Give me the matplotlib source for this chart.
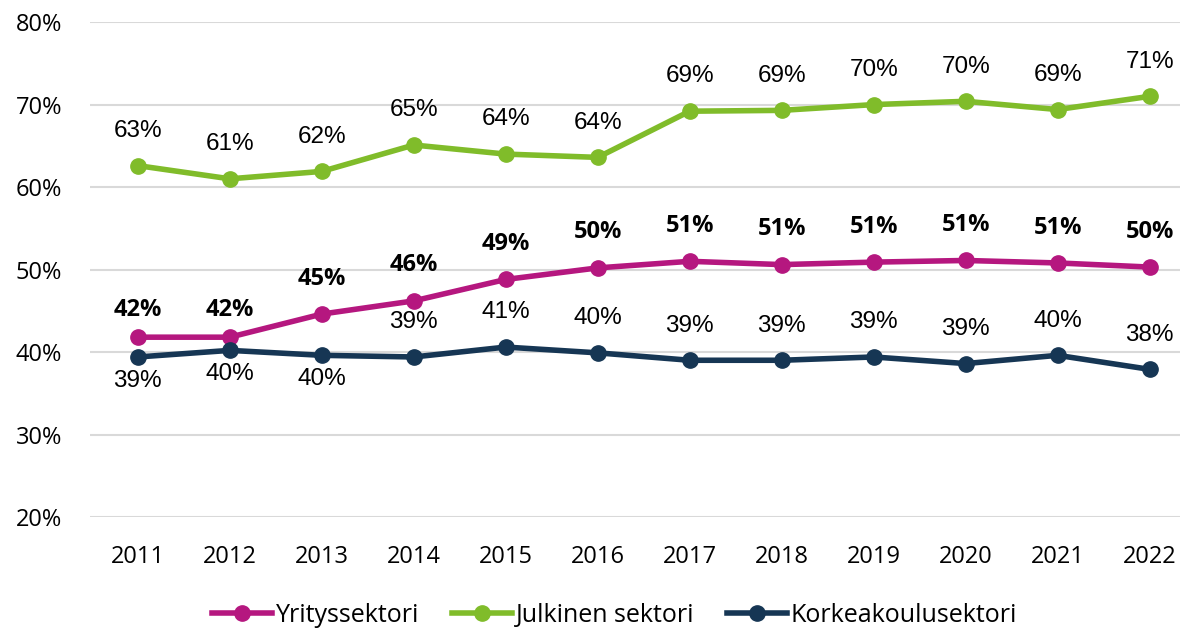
import matplotlib.pyplot as plt
import numpy as np

# DATA
years = ["2011", "2012", "2013", "2014", "2015", "2016", "2017", "2018", "2019", "2020", "2021", "2022"]
yritys = [41.8, 41.8, 44.6, 46.2, 48.8, 50.2, 51.0, 50.6, 50.9, 51.1, 50.8, 50.3]
julkinen = [62.6, 61.0, 61.9, 65.1, 64.0, 63.6, 69.2, 69.3, 70.0, 70.4, 69.4, 71.0]
korkeakoulu = [39.4, 40.2, 39.6, 39.4, 40.6, 39.9, 39.0, 39.0, 39.4, 38.6, 39.6, 37.9]

names = ["Yrityssektori", "Julkinen sektori", "Korkeakoulusektori"]
colors = ["#B5177F", "#80BC2A", "#163654"]

plt.rcParams['font.family'] = ['Open Sans', 'DejaVu Sans']
lab_font = ['Liberation Sans', 'DejaVu Sans']

fig = plt.figure(figsize=(11.89, 6.32), dpi=100)
ax = fig.add_axes([0.0757, 0.182, 0.9167, 0.783])
x = np.arange(len(years))

for vals, name, col in zip([yritys, julkinen, korkeakoulu], names, colors):
    ax.plot(x, vals, color=col, linewidth=4, marker='o', markersize=11, label=name, zorder=3)

# labels (offsets in points)
for i, v in enumerate(julkinen):
    ax.annotate(f"{round(v)}%", (i, v), xytext=(0, 25), textcoords='offset points',
                ha='center', va='center', fontsize=17.5, family=lab_font)
for i, v in enumerate(yritys):
    off = 19.5 if i < 2 else 25.5
    ax.annotate(f"{round(v)}%", (i, v), xytext=(0, off), textcoords='offset points',
                ha='center', va='center', fontsize=17, fontweight='bold')
for i, v in enumerate(korkeakoulu):
    off = -17 if i < 3 else 25
    ax.annotate(f"{round(v)}%", (i, v), xytext=(0, off), textcoords='offset points',
                ha='center', va='center', fontsize=17.5, family=lab_font)

ax.set_ylim(20, 80)
ax.set_xlim(-0.52, 11.33)
ax.set_yticks(np.arange(20, 81, 10))
ax.set_yticklabels([f"{t}%" for t in range(20, 81, 10)])
ax.set_xticks(x)
ax.set_xticklabels(years)
ax.tick_params(axis='both', length=0, labelsize=17)
ax.tick_params(axis='y', pad=20)
ax.tick_params(axis='x', pad=20)
ax.grid(axis='y', color='#D9D9D9', linewidth=1.5)
ax.set_axisbelow(True)
for s in ax.spines.values():
    s.set_visible(False)

fig.legend(loc='center', bbox_to_anchor=(0.517, 0.026), ncol=3, frameon=False,
           handlelength=2.4, columnspacing=1.3, handletextpad=0.15,
           prop={'family': ['Open Sans'], 'size': 18})

fig.savefig("out.png", dpi=100)
